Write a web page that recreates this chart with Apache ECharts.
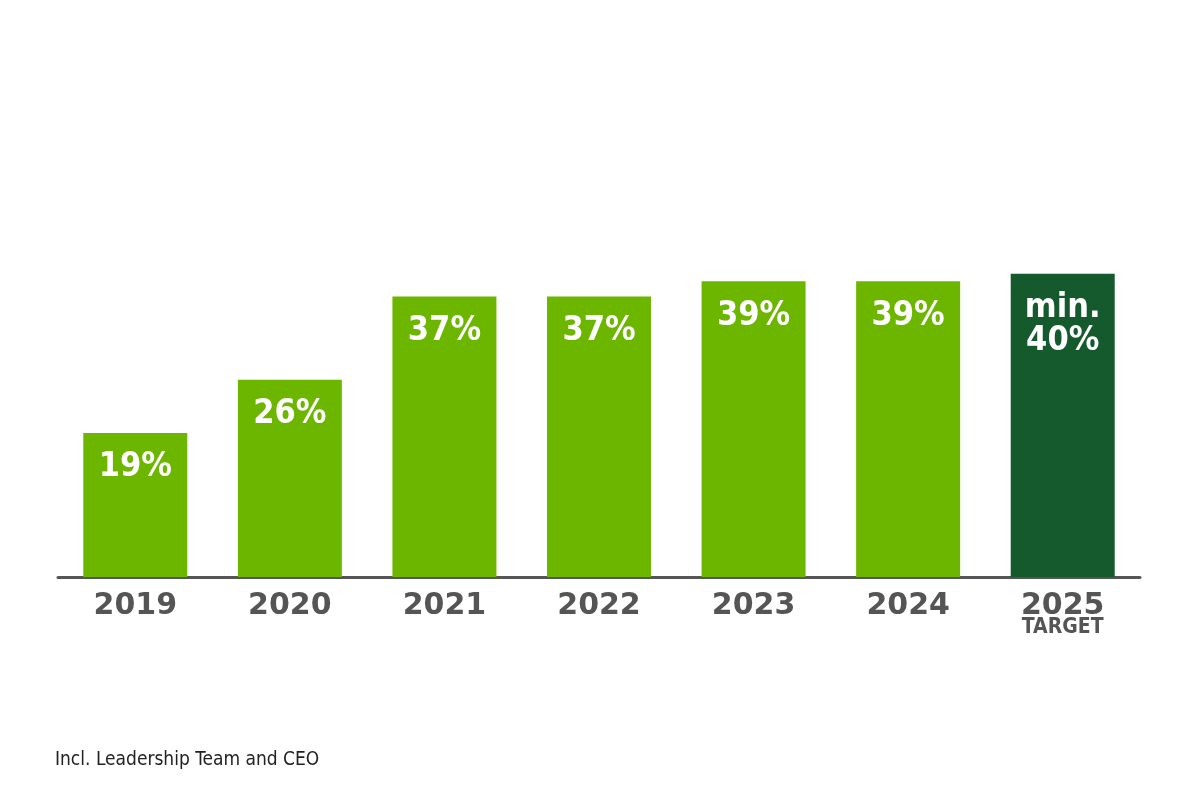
<!DOCTYPE html>
<html>
<head>
<meta charset="utf-8">
<script src="https://cdn.jsdelivr.net/npm/echarts@6/dist/echarts.min.js"></script>
<style>
  html, body { margin: 0; padding: 0; background: #fff; }
  #chart { width: 1200px; height: 800px; }
</style>
</head>
<body>
<div id="chart"></div>
<script>
const years = ["2019", "2020", "2021", "2022", "2023", "2024", "2025"];
const shares = [19, 26, 37, 37, 39, 39, 40];
const valueLabels = ["19%", "26%", "37%", "37%", "39%", "39%", "min.\n40%"];
const footnote = "Incl. Leadership Team and CEO";

const lightGreen = "#6db600";
const darkGreen = "#145a2c";
const narrow = "'DejaVu Sans Condensed', 'Liberation Sans Narrow', Roboto, sans-serif";

const chart = echarts.init(document.getElementById("chart"));

const option = {
    animation: false,
    backgroundColor: "#fff",
    title: {
        text: footnote,
        left: 50,
        top: 746,
        textStyle: {
            fontFamily: narrow,
            fontWeight: "normal",
            fontSize: 19,
            color: "#222"
        }
    },
    grid: { left: 58, right: 60, top: 122, bottom: 223 },
    xAxis: {
        type: "category",
        data: years,
        axisLine: { lineStyle: { color: "#555", width: 3 } },
        axisTick: { show: false },
        axisLabel: {
            interval: 0,
            margin: 15,
            formatter: (v, i) => i === years.length - 1 ? v + "\n{t|TARGET}" : v,
            fontFamily: "DejaVu Sans",
            fontWeight: "bold",
            fontSize: 30,
            color: "#555",
            lineHeight: 28,
            rich: {
                t: {
                    fontFamily: narrow,
                    fontWeight: "bold",
                    fontSize: 21,
                    color: "#555",
                    lineHeight: 16
                }
            }
        }
    },
    yAxis: {
        type: "value",
        min: 0,
        max: 60,
        show: false,
        splitLine: { show: false }
    },
    series: [{
        type: "bar",
        barWidth: 104,
        data: shares.map((v, i) => ({
            value: v,
            itemStyle: { color: i === shares.length - 1 ? darkGreen : lightGreen }
        })),
        label: {
            show: true,
            position: "insideTop",
            distance: 18,
            formatter: p => valueLabels[p.dataIndex],
            fontFamily: narrow,
            fontWeight: "bold",
            fontSize: 34,
            lineHeight: 33,
            color: "#fff"
        }
    }]
};

chart.setOption(option);
</script>
</body>
</html>
